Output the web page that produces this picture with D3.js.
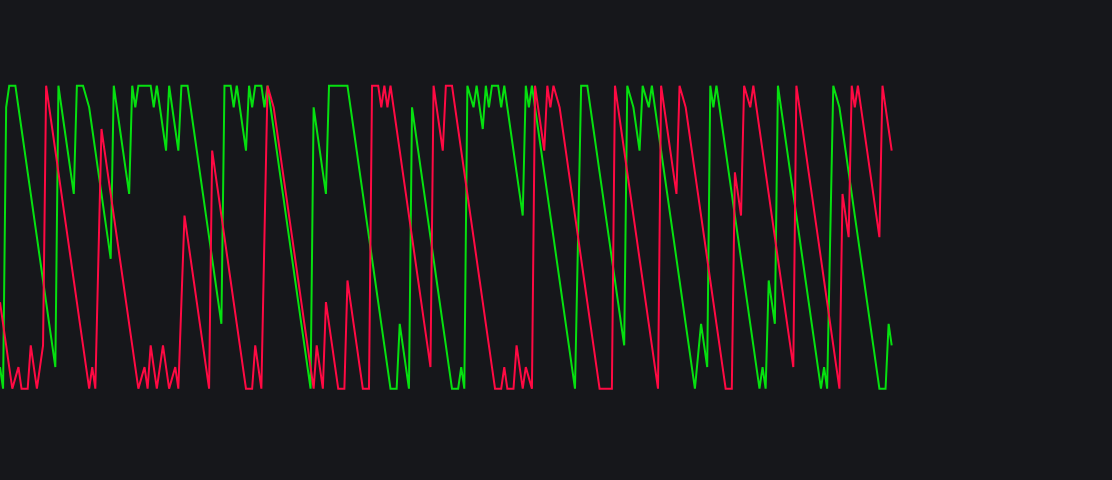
<!DOCTYPE html>
<html>
<head>
<meta charset="utf-8">
<script src="https://cdn.jsdelivr.net/npm/d3@7"></script>
<style>
  html, body { margin: 0; padding: 0; background: #16171b; overflow: hidden; }
</style>
</head>
<body>
<script>
// aroon up (green) / aroon down (red), one value per period
var aroonDown = [
  28.57,21.43,14.29,7.14,0,3.57,7.14,0,0,0,
  14.29,7.14,0,7.14,14.29,100,92.86,85.71,78.57,71.43,
  64.29,57.14,50,42.86,35.71,28.57,21.43,14.29,7.14,0,
  7.14,0,42.86,85.71,78.57,71.43,64.29,57.14,50,42.86,
  35.71,28.57,21.43,14.29,7.14,0,3.57,7.14,0,14.29,
  7.14,0,7.14,14.29,7.14,0,3.57,7.14,0,28.57,
  57.14,50,42.86,35.71,28.57,21.43,14.29,7.14,0,78.57,
  71.43,64.29,57.14,50,42.86,35.71,28.57,21.43,14.29,7.14,
  0,0,0,14.29,7.14,0,50,100,96.43,92.86,
  85.71,78.57,71.43,64.29,57.14,50,42.86,35.71,28.57,21.43,
  14.29,7.14,0,14.29,7.14,0,28.57,21.43,14.29,7.14,
  0,0,0,35.71,28.57,21.43,14.29,7.14,0,0,
  0,100,100,100,92.86,100,92.86,100,92.86,85.71,
  78.57,71.43,64.29,57.14,50,42.86,35.71,28.57,21.43,14.29,
  7.14,100,92.86,85.71,78.57,100,100,100,92.86,85.71,
  78.57,71.43,64.29,57.14,50,42.86,35.71,28.57,21.43,14.29,
  7.14,0,0,0,7.14,0,0,0,14.29,7.14,
  0,7.14,3.57,0,100,92.86,85.71,78.57,100,92.86,
  100,96.43,92.86,85.71,78.57,71.43,64.29,57.14,50,42.86,
  35.71,28.57,21.43,14.29,7.14,0,0,0,0,0,
  100,92.86,85.71,78.57,71.43,64.29,57.14,50,42.86,35.71,
  28.57,21.43,14.29,7.14,0,100,92.86,85.71,78.57,71.43,
  64.29,100,96.43,92.86,85.71,78.57,71.43,64.29,57.14,50,
  42.86,35.71,28.57,21.43,14.29,7.14,0,0,0,71.43,
  64.29,57.14,100,96.43,92.86,100,92.86,85.71,78.57,71.43,
  64.29,57.14,50,42.86,35.71,28.57,21.43,14.29,7.14,100,
  92.86,85.71,78.57,71.43,64.29,57.14,50,42.86,35.71,28.57,
  21.43,14.29,7.14,0,64.29,57.14,50,100,92.86,100,
  92.86,85.71,78.57,71.43,64.29,57.14,50,100,92.86,85.71,
  78.57
]

var aroonUp = [
  7.14,0,92.86,100,100,100,92.86,85.71,78.57,71.43,
  64.29,57.14,50,42.86,35.71,28.57,21.43,14.29,7.14,100,
  92.86,85.71,78.57,71.43,64.29,100,100,100,96.43,92.86,
  85.71,78.57,71.43,64.29,57.14,50,42.86,100,92.86,85.71,
  78.57,71.43,64.29,100,92.86,100,100,100,100,100,
  92.86,100,92.86,85.71,78.57,100,92.86,85.71,78.57,100,
  100,100,92.86,85.71,78.57,71.43,64.29,57.14,50,42.86,
  35.71,28.57,21.43,100,100,100,92.86,100,92.86,85.71,
  78.57,100,92.86,100,100,100,92.86,100,92.86,85.71,
  78.57,71.43,64.29,57.14,50,42.86,35.71,28.57,21.43,14.29,
  7.14,0,92.86,85.71,78.57,71.43,64.29,100,100,100,
  100,100,100,100,92.86,85.71,78.57,71.43,64.29,57.14,
  50,42.86,35.71,28.57,21.43,14.29,7.14,0,0,0,
  21.43,14.29,7.14,0,92.86,85.71,78.57,71.43,64.29,57.14,
  50,42.86,35.71,28.57,21.43,14.29,7.14,0,0,0,
  7.14,0,100,96.43,92.86,100,92.86,85.71,100,92.86,
  100,100,100,92.86,100,92.86,85.71,78.57,71.43,64.29,
  57.14,100,92.86,100,92.86,85.71,78.57,71.43,64.29,57.14,
  50,42.86,35.71,28.57,21.43,14.29,7.14,0,50,100,
  100,100,92.86,85.71,78.57,71.43,64.29,57.14,50,42.86,
  35.71,28.57,21.43,14.29,100,96.43,92.86,85.71,78.57,100,
  96.43,92.86,100,92.86,85.71,78.57,71.43,64.29,57.14,50,
  42.86,35.71,28.57,21.43,14.29,7.14,0,10.71,21.43,14.29,
  7.14,100,92.86,100,92.86,85.71,78.57,71.43,64.29,57.14,
  50,42.86,35.71,28.57,21.43,14.29,7.14,0,7.14,0,
  35.71,28.57,21.43,100,92.86,85.71,78.57,71.43,64.29,57.14,
  50,42.86,35.71,28.57,21.43,14.29,7.14,0,7.14,0,
  50,100,96.43,92.86,85.71,78.57,71.43,64.29,57.14,50,
  42.86,35.71,28.57,21.43,14.29,7.14,0,0,0,21.43,
  14.29
]

var w = 1112
var h = 480

var svg = d3.select("body").append("svg")
  .attr("width", w)
  .attr("height", h)

svg.append("rect").attr("width", w).attr("height", h).attr("fill", "#16171b")

var x = d3.scaleLinear().domain([0, aroonUp.length - 1]).range([0, 891.7])
var y = d3.scaleLinear().domain([0, 100]).range([388.7, 85.7])

var line = d3.line()
  .x(function(d, i) { return x(i) })
  .y(function(d) { return y(d) })

// green first, red drawn over it
svg.append("path")
  .datum(aroonUp)
  .attr("fill", "none")
  .attr("stroke", "#06e010")
  .attr("stroke-width", 2)
  .attr("d", line)

svg.append("path")
  .datum(aroonDown)
  .attr("fill", "none")
  .attr("stroke", "#ff0a43")
  .attr("stroke-width", 2)
  .attr("d", line)
</script>
</body>
</html>
